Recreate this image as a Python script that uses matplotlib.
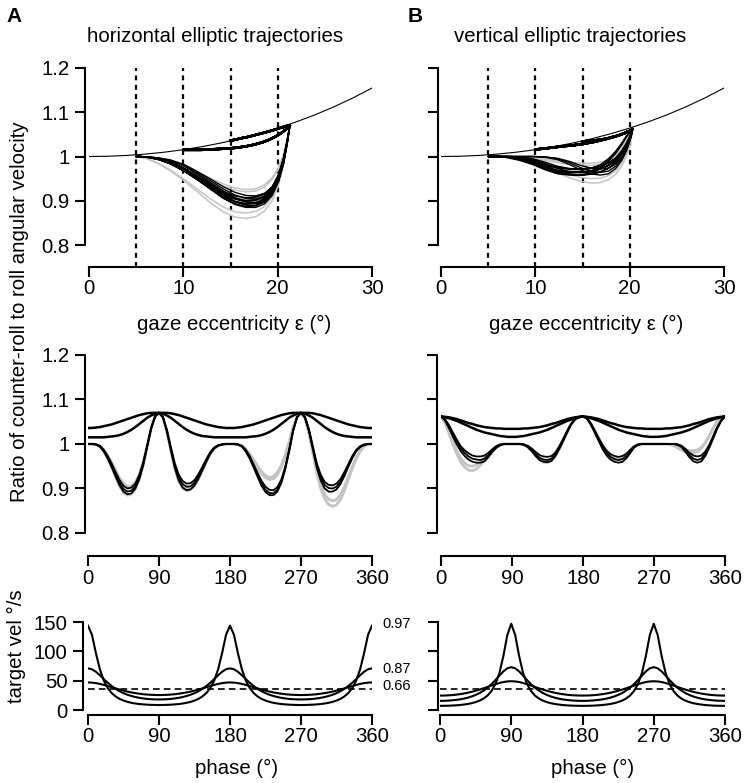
import numpy as np
import matplotlib
matplotlib.use("Agg")
import matplotlib.pyplot as plt

plt.rcParams['font.family'] = ['Liberation Sans', 'DejaVu Sans']
plt.rcParams['font.size'] = 14.7

# ---------------- data ----------------
phase = np.arange(0, 361, 5)            # trajectory phase (deg), 5 deg steps
ref_ecc = [0, 2, 4, 6, 8, 10, 12, 14, 16, 18, 20, 22, 24, 26, 28, 30]
ref_ratio = [1.0000, 1.0006, 1.0024, 1.0055, 1.0098, 1.0154, 1.0223, 1.0306,
             1.0403, 1.0515, 1.0642, 1.0785, 1.0946, 1.1126, 1.1326, 1.1547]
dotted_ecc = [5, 10, 15, 20]

# gaze eccentricity along the horizontal ellipses (minor axis 5, 10, 15 deg)
ecc_h5 = [5.00, 5.32, 6.16, 7.33, 8.67, 10.08, 11.50, 12.89, 14.22, 15.47, 16.63, 17.68, 18.61, 19.42, 20.09, 20.62, 21.00, 21.22, 21.30,
          21.22, 21.00, 20.62, 20.09, 19.42, 18.61, 17.68, 16.63, 15.47, 14.22, 12.89, 11.50, 10.08, 8.67, 7.33, 6.16, 5.32, 5.00,
          5.32, 6.16, 7.33, 8.67, 10.08, 11.50, 12.89, 14.22, 15.47, 16.63, 17.68, 18.61, 19.42, 20.09, 20.62, 21.00, 21.22, 21.30,
          21.22, 21.00, 20.62, 20.09, 19.42, 18.61, 17.68, 16.63, 15.47, 14.22, 12.89, 11.50, 10.08, 8.67, 7.33, 6.16, 5.32, 5.00]
ecc_h10 = [10.00, 10.13, 10.52, 11.12, 11.89, 12.77, 13.73, 14.71, 15.69, 16.64, 17.54, 18.37, 19.11, 19.76, 20.31, 20.74, 21.05, 21.24, 21.30,
           21.24, 21.05, 20.74, 20.31, 19.76, 19.11, 18.37, 17.54, 16.64, 15.69, 14.71, 13.73, 12.77, 11.89, 11.12, 10.52, 10.13, 10.00,
           10.13, 10.52, 11.12, 11.89, 12.77, 13.73, 14.71, 15.69, 16.64, 17.54, 18.37, 19.11, 19.76, 20.31, 20.74, 21.05, 21.24, 21.30,
           21.24, 21.05, 20.74, 20.31, 19.76, 19.11, 18.37, 17.54, 16.64, 15.69, 14.71, 13.73, 12.77, 11.89, 11.12, 10.52, 10.13, 10.00]
ecc_h15 = [15.00, 15.06, 15.23, 15.50, 15.87, 16.30, 16.80, 17.33, 17.87, 18.42, 18.95, 19.45, 19.91, 20.32, 20.66, 20.94, 21.14, 21.26, 21.30,
           21.26, 21.14, 20.94, 20.66, 20.32, 19.91, 19.45, 18.95, 18.42, 17.87, 17.33, 16.80, 16.30, 15.87, 15.50, 15.23, 15.06, 15.00,
           15.06, 15.23, 15.50, 15.87, 16.30, 16.80, 17.33, 17.87, 18.42, 18.95, 19.45, 19.91, 20.32, 20.66, 20.94, 21.14, 21.26, 21.30,
           21.26, 21.14, 20.94, 20.66, 20.32, 19.91, 19.45, 18.95, 18.42, 17.87, 17.33, 16.80, 16.30, 15.87, 15.50, 15.23, 15.06, 15.00]

# gaze eccentricity along the vertical ellipses
ecc_v5 = [20.30, 20.23, 20.01, 19.65, 19.15, 18.52, 17.76, 16.87, 15.88, 14.78, 13.60, 12.34, 11.04, 9.70, 8.38, 7.13, 6.06, 5.29, 5.00,
          5.29, 6.06, 7.13, 8.38, 9.70, 11.04, 12.34, 13.60, 14.78, 15.88, 16.87, 17.76, 18.52, 19.15, 19.65, 20.01, 20.23, 20.30,
          20.23, 20.01, 19.65, 19.15, 18.52, 17.76, 16.87, 15.88, 14.78, 13.60, 12.34, 11.04, 9.70, 8.38, 7.13, 6.06, 5.29, 5.00,
          5.29, 6.06, 7.13, 8.38, 9.70, 11.04, 12.34, 13.60, 14.78, 15.88, 16.87, 17.76, 18.52, 19.15, 19.65, 20.01, 20.23, 20.30]
ecc_v10 = [20.30, 20.24, 20.07, 19.78, 19.38, 18.88, 18.28, 17.59, 16.83, 16.00, 15.13, 14.24, 13.34, 12.48, 11.68, 11.00, 10.46, 10.12, 10.00,
           10.12, 10.46, 11.00, 11.68, 12.48, 13.34, 14.24, 15.13, 16.00, 16.83, 17.59, 18.28, 18.88, 19.38, 19.78, 20.07, 20.24, 20.30,
           20.24, 20.07, 19.78, 19.38, 18.88, 18.28, 17.59, 16.83, 16.00, 15.13, 14.24, 13.34, 12.48, 11.68, 11.00, 10.46, 10.12, 10.00,
           10.12, 10.46, 11.00, 11.68, 12.48, 13.34, 14.24, 15.13, 16.00, 16.83, 17.59, 18.28, 18.88, 19.38, 19.78, 20.07, 20.24, 20.30]
ecc_v15 = [20.30, 20.27, 20.16, 19.99, 19.75, 19.46, 19.11, 18.72, 18.30, 17.85, 17.39, 16.93, 16.49, 16.07, 15.71, 15.41, 15.19, 15.05, 15.00,
           15.05, 15.19, 15.41, 15.71, 16.07, 16.49, 16.93, 17.39, 17.85, 18.30, 18.72, 19.11, 19.46, 19.75, 19.99, 20.16, 20.27, 20.30,
           20.27, 20.16, 19.99, 19.75, 19.46, 19.11, 18.72, 18.30, 17.85, 17.39, 16.93, 16.49, 16.07, 15.71, 15.41, 15.19, 15.05, 15.00,
           15.05, 15.19, 15.41, 15.71, 16.07, 16.49, 16.93, 17.39, 17.85, 18.30, 18.72, 19.11, 19.46, 19.75, 19.99, 20.16, 20.27, 20.30]

# counter-roll / roll ratio, horizontal ellipses
ratio_h15 = [1.036, 1.036, 1.037, 1.038, 1.040, 1.042, 1.044, 1.047, 1.050, 1.053, 1.056, 1.059, 1.062, 1.065, 1.067, 1.069, 1.070, 1.070, 1.070,
             1.070, 1.070, 1.069, 1.067, 1.065, 1.062, 1.059, 1.056, 1.053, 1.050, 1.047, 1.044, 1.042, 1.040, 1.038, 1.037, 1.036, 1.036,
             1.036, 1.037, 1.038, 1.040, 1.042, 1.044, 1.047, 1.050, 1.053, 1.056, 1.059, 1.062, 1.065, 1.067, 1.069, 1.070, 1.070, 1.070,
             1.070, 1.070, 1.069, 1.067, 1.065, 1.062, 1.059, 1.056, 1.053, 1.050, 1.047, 1.044, 1.042, 1.040, 1.038, 1.037, 1.036, 1.036]
ratio_h10 = [1.015, 1.015, 1.015, 1.015, 1.015, 1.016, 1.017, 1.018, 1.020, 1.023, 1.027, 1.032, 1.038, 1.045, 1.052, 1.059, 1.064, 1.068, 1.070,
             1.068, 1.064, 1.059, 1.052, 1.045, 1.038, 1.032, 1.027, 1.023, 1.020, 1.018, 1.017, 1.016, 1.015, 1.015, 1.015, 1.015, 1.015,
             1.015, 1.015, 1.015, 1.015, 1.016, 1.017, 1.018, 1.020, 1.023, 1.027, 1.032, 1.038, 1.045, 1.052, 1.059, 1.064, 1.068, 1.070,
             1.068, 1.064, 1.059, 1.052, 1.045, 1.038, 1.032, 1.027, 1.023, 1.020, 1.018, 1.017, 1.016, 1.015, 1.015, 1.015, 1.015, 1.015]
ratio_h5_black = [
    [1.000, 1.000, 0.999, 0.995, 0.985, 0.970, 0.952, 0.932, 0.913, 0.899, 0.893, 0.895, 0.905, 0.925, 0.955, 0.995, 1.035, 1.062, 1.070,
     1.060, 1.030, 0.990, 0.952, 0.925, 0.910, 0.904, 0.905, 0.913, 0.927, 0.945, 0.963, 0.980, 0.991, 0.997, 0.999, 1.000, 1.000,
     1.000, 0.999, 0.995, 0.985, 0.970, 0.950, 0.930, 0.911, 0.897, 0.890, 0.889, 0.897, 0.915, 0.945, 0.985, 1.030, 1.060, 1.070,
     1.060, 1.032, 0.992, 0.952, 0.925, 0.908, 0.901, 0.900, 0.904, 0.915, 0.932, 0.952, 0.970, 0.985, 0.994, 0.998, 1.000, 1.000],
    [1.000, 1.000, 0.999, 0.994, 0.983, 0.967, 0.948, 0.927, 0.907, 0.893, 0.887, 0.889, 0.900, 0.921, 0.952, 0.993, 1.034, 1.062, 1.070,
     1.060, 1.028, 0.986, 0.946, 0.918, 0.902, 0.896, 0.898, 0.907, 0.922, 0.941, 0.960, 0.978, 0.990, 0.996, 0.999, 1.000, 1.000,
     1.000, 0.999, 0.994, 0.983, 0.967, 0.947, 0.926, 0.906, 0.892, 0.885, 0.885, 0.893, 0.912, 0.943, 0.983, 1.029, 1.060, 1.070,
     1.059, 1.029, 0.988, 0.947, 0.918, 0.900, 0.893, 0.893, 0.898, 0.910, 0.928, 0.949, 0.968, 0.984, 0.993, 0.998, 1.000, 1.000],
    [1.000, 1.000, 0.999, 0.996, 0.987, 0.973, 0.956, 0.937, 0.919, 0.906, 0.900, 0.902, 0.911, 0.930, 0.959, 0.997, 1.036, 1.062, 1.070,
     1.061, 1.032, 0.993, 0.957, 0.931, 0.917, 0.911, 0.912, 0.919, 0.932, 0.949, 0.966, 0.982, 0.992, 0.997, 0.999, 1.000, 1.000,
     1.000, 0.999, 0.996, 0.987, 0.973, 0.954, 0.935, 0.917, 0.904, 0.897, 0.896, 0.903, 0.920, 0.949, 0.988, 1.031, 1.061, 1.070,
     1.061, 1.034, 0.995, 0.957, 0.931, 0.915, 0.908, 0.907, 0.911, 0.921, 0.937, 0.955, 0.973, 0.987, 0.995, 0.999, 1.000, 1.000],
]
ratio_h5_gray = [
    [1.000, 1.000, 0.999, 0.995, 0.984, 0.968, 0.948, 0.926, 0.905, 0.891, 0.885, 0.887, 0.898, 0.920, 0.952, 0.993, 1.034, 1.062, 1.070,
     1.059, 1.027, 0.985, 0.945, 0.916, 0.900, 0.895, 0.897, 0.906, 0.921, 0.940, 0.960, 0.978, 0.990, 0.996, 0.999, 1.000, 1.000,
     1.000, 0.999, 0.996, 0.989, 0.978, 0.965, 0.951, 0.938, 0.929, 0.925, 0.927, 0.936, 0.952, 0.975, 1.005, 1.038, 1.062, 1.070,
     1.058, 1.025, 0.980, 0.935, 0.900, 0.877, 0.864, 0.860, 0.863, 0.875, 0.895, 0.920, 0.945, 0.967, 0.984, 0.995, 0.999, 1.000],
    [1.000, 1.000, 0.999, 0.996, 0.988, 0.975, 0.959, 0.941, 0.924, 0.912, 0.905, 0.906, 0.914, 0.932, 0.960, 0.997, 1.036, 1.062, 1.070,
     1.060, 1.029, 0.988, 0.950, 0.922, 0.906, 0.900, 0.902, 0.910, 0.924, 0.943, 0.962, 0.979, 0.991, 0.997, 0.999, 1.000, 1.000,
     1.000, 0.999, 0.996, 0.988, 0.976, 0.961, 0.946, 0.933, 0.924, 0.920, 0.922, 0.931, 0.948, 0.972, 1.003, 1.037, 1.062, 1.070,
     1.059, 1.027, 0.984, 0.941, 0.908, 0.887, 0.876, 0.872, 0.875, 0.886, 0.904, 0.926, 0.949, 0.969, 0.985, 0.995, 0.999, 1.000],
]

# counter-roll / roll ratio, vertical ellipses
ratio_v15 = [1.062, 1.061, 1.060, 1.058, 1.056, 1.053, 1.050, 1.047, 1.045, 1.042, 1.040, 1.038, 1.037, 1.036, 1.035, 1.035, 1.034, 1.034, 1.034,
             1.034, 1.034, 1.035, 1.035, 1.036, 1.037, 1.038, 1.040, 1.042, 1.045, 1.047, 1.050, 1.053, 1.056, 1.058, 1.060, 1.061, 1.062,
             1.061, 1.060, 1.058, 1.056, 1.053, 1.050, 1.047, 1.045, 1.042, 1.040, 1.038, 1.037, 1.036, 1.035, 1.035, 1.034, 1.034, 1.034,
             1.034, 1.034, 1.035, 1.035, 1.036, 1.037, 1.038, 1.040, 1.042, 1.045, 1.047, 1.050, 1.053, 1.056, 1.058, 1.060, 1.061, 1.062]
ratio_v10 = [1.062, 1.060, 1.058, 1.055, 1.052, 1.048, 1.044, 1.040, 1.036, 1.032, 1.029, 1.026, 1.024, 1.022, 1.020, 1.018, 1.017, 1.016, 1.016,
             1.016, 1.017, 1.018, 1.020, 1.022, 1.024, 1.026, 1.029, 1.032, 1.036, 1.040, 1.044, 1.048, 1.052, 1.055, 1.058, 1.060, 1.062,
             1.060, 1.058, 1.055, 1.052, 1.048, 1.044, 1.040, 1.036, 1.032, 1.029, 1.026, 1.024, 1.022, 1.020, 1.018, 1.017, 1.016, 1.016,
             1.016, 1.017, 1.018, 1.020, 1.022, 1.024, 1.026, 1.029, 1.032, 1.036, 1.040, 1.044, 1.048, 1.052, 1.055, 1.058, 1.060, 1.062]
ratio_v5_black = [
    [1.062, 1.055, 1.040, 1.022, 1.005, 0.990, 0.980, 0.972, 0.967, 0.965, 0.964, 0.967, 0.975, 0.985, 0.993, 0.998, 1.000, 1.000, 1.000,
     1.000, 1.000, 0.999, 0.995, 0.987, 0.977, 0.969, 0.965, 0.964, 0.967, 0.977, 0.992, 1.010, 1.028, 1.045, 1.056, 1.061, 1.062,
     1.058, 1.045, 1.028, 1.010, 0.993, 0.980, 0.971, 0.966, 0.964, 0.966, 0.973, 0.984, 0.994, 0.999, 1.000, 1.000, 1.000, 1.000,
     1.000, 1.000, 1.000, 1.000, 1.000, 0.999, 0.995, 0.986, 0.975, 0.967, 0.964, 0.967, 0.978, 0.995, 1.015, 1.036, 1.052, 1.062],
    [1.062, 1.053, 1.036, 1.017, 0.999, 0.984, 0.973, 0.965, 0.960, 0.958, 0.958, 0.961, 0.970, 0.982, 0.991, 0.997, 1.000, 1.000, 1.000,
     1.000, 1.000, 0.998, 0.993, 0.984, 0.973, 0.964, 0.960, 0.959, 0.962, 0.973, 0.989, 1.007, 1.026, 1.044, 1.055, 1.061, 1.062,
     1.057, 1.043, 1.025, 1.006, 0.988, 0.974, 0.965, 0.960, 0.958, 0.960, 0.968, 0.980, 0.992, 0.998, 1.000, 1.000, 1.000, 1.000,
     1.000, 1.000, 1.000, 1.000, 1.000, 0.998, 0.993, 0.982, 0.970, 0.961, 0.958, 0.961, 0.973, 0.991, 1.012, 1.034, 1.051, 1.062],
    [1.062, 1.056, 1.043, 1.026, 1.010, 0.995, 0.986, 0.979, 0.974, 0.972, 0.972, 0.974, 0.980, 0.988, 0.995, 0.999, 1.000, 1.000, 1.000,
     1.000, 1.000, 0.999, 0.996, 0.990, 0.982, 0.975, 0.972, 0.971, 0.973, 0.981, 0.995, 1.012, 1.030, 1.046, 1.056, 1.061, 1.062,
     1.058, 1.046, 1.030, 1.013, 0.997, 0.985, 0.977, 0.973, 0.971, 0.973, 0.978, 0.987, 0.995, 0.999, 1.000, 1.000, 1.000, 1.000,
     1.000, 1.000, 1.000, 1.000, 1.000, 0.999, 0.996, 0.989, 0.980, 0.974, 0.972, 0.974, 0.983, 0.998, 1.018, 1.038, 1.053, 1.062],
]
ratio_v5_gray = [
    [1.062, 1.048, 1.025, 1.000, 0.978, 0.960, 0.948, 0.941, 0.940, 0.944, 0.952, 0.963, 0.975, 0.986, 0.993, 0.998, 1.000, 1.000, 1.000,
     1.000, 1.000, 0.998, 0.993, 0.984, 0.973, 0.964, 0.959, 0.958, 0.962, 0.973, 0.989, 1.008, 1.027, 1.044, 1.055, 1.061, 1.062,
     1.058, 1.046, 1.030, 1.013, 0.996, 0.982, 0.972, 0.966, 0.965, 0.968, 0.976, 0.986, 0.995, 0.999, 1.000, 1.000, 1.000, 1.000,
     1.000, 1.000, 1.000, 0.999, 0.997, 0.994, 0.990, 0.987, 0.985, 0.985, 0.987, 0.992, 1.003, 1.018, 1.035, 1.050, 1.058, 1.062],
    [1.062, 1.050, 1.030, 1.007, 0.985, 0.968, 0.957, 0.951, 0.950, 0.953, 0.959, 0.968, 0.978, 0.988, 0.995, 0.999, 1.000, 1.000, 1.000,
     1.000, 1.000, 0.998, 0.994, 0.986, 0.976, 0.967, 0.963, 0.962, 0.965, 0.975, 0.991, 1.009, 1.028, 1.045, 1.056, 1.061, 1.062,
     1.058, 1.045, 1.029, 1.011, 0.994, 0.981, 0.973, 0.969, 0.968, 0.970, 0.977, 0.987, 0.995, 0.999, 1.000, 1.000, 1.000, 1.000,
     1.000, 1.000, 1.000, 0.999, 0.996, 0.991, 0.986, 0.982, 0.980, 0.980, 0.983, 0.990, 1.002, 1.018, 1.036, 1.051, 1.059, 1.062],
]

# target velocity (deg/s) for ellipse eccentricities 0.97, 0.87, 0.66
vel_labels = ['0.97', '0.87', '0.66']
vel_h = [
    [143.8, 128.3, 97.1, 69.6, 50.2, 37.4, 28.9, 23.1, 19.0, 16.1, 13.9, 12.3, 11.1, 10.2, 9.6, 9.1, 8.8, 8.6, 8.5,
     8.6, 8.8, 9.1, 9.6, 10.2, 11.1, 12.3, 13.9, 16.1, 19.0, 23.1, 28.9, 37.4, 50.2, 69.6, 97.1, 128.3, 143.8,
     128.3, 97.1, 69.6, 50.2, 37.4, 28.9, 23.1, 19.0, 16.1, 13.9, 12.3, 11.1, 10.2, 9.6, 9.1, 8.8, 8.6, 8.5,
     8.6, 8.8, 9.1, 9.6, 10.2, 11.1, 12.3, 13.9, 16.1, 19.0, 23.1, 28.9, 37.4, 50.2, 69.6, 97.1, 128.3, 143.8],
    [71.0, 69.5, 65.2, 59.3, 52.8, 46.5, 40.9, 36.1, 32.0, 28.7, 26.0, 23.9, 22.1, 20.8, 19.7, 18.9, 18.4, 18.1, 18.0,
     18.1, 18.4, 18.9, 19.7, 20.8, 22.1, 23.9, 26.0, 28.7, 32.0, 36.1, 40.9, 46.5, 52.8, 59.3, 65.2, 69.5, 71.0,
     69.5, 65.2, 59.3, 52.8, 46.5, 40.9, 36.1, 32.0, 28.7, 26.0, 23.9, 22.1, 20.8, 19.7, 18.9, 18.4, 18.1, 18.0,
     18.1, 18.4, 18.9, 19.7, 20.8, 22.1, 23.9, 26.0, 28.7, 32.0, 36.1, 40.9, 46.5, 52.8, 59.3, 65.2, 69.5, 71.0],
    [47.0, 46.7, 45.8, 44.5, 42.8, 40.8, 38.8, 36.8, 34.9, 33.1, 31.4, 30.0, 28.8, 27.8, 26.9, 26.3, 25.9, 25.6, 25.5,
     25.6, 25.9, 26.3, 26.9, 27.8, 28.8, 30.0, 31.4, 33.1, 34.9, 36.8, 38.8, 40.8, 42.8, 44.5, 45.8, 46.7, 47.0,
     46.7, 45.8, 44.5, 42.8, 40.8, 38.8, 36.8, 34.9, 33.1, 31.4, 30.0, 28.8, 27.8, 26.9, 26.3, 25.9, 25.6, 25.5,
     25.6, 25.9, 26.3, 26.9, 27.8, 28.8, 30.0, 31.4, 33.1, 34.9, 36.8, 38.8, 40.8, 42.8, 44.5, 45.8, 46.7, 47.0],
]
vel_v = [
    [7.0, 7.1, 7.2, 7.5, 7.9, 8.4, 9.2, 10.2, 11.5, 13.4, 15.9, 19.4, 24.5, 32.2, 44.0, 62.8, 91.7, 127.6, 147.0,
     127.6, 91.7, 62.8, 44.0, 32.2, 24.5, 19.4, 15.9, 13.4, 11.5, 10.2, 9.2, 8.4, 7.9, 7.5, 7.2, 7.1, 7.0,
     7.1, 7.2, 7.5, 7.9, 8.4, 9.2, 10.2, 11.5, 13.4, 15.9, 19.4, 24.5, 32.2, 44.0, 62.8, 91.7, 127.6, 147.0,
     127.6, 91.7, 62.8, 44.0, 32.2, 24.5, 19.4, 15.9, 13.4, 11.5, 10.2, 9.2, 8.4, 7.9, 7.5, 7.2, 7.1, 7.0],
    [15.5, 15.6, 15.9, 16.4, 17.1, 18.0, 19.3, 20.9, 23.0, 25.6, 28.8, 32.9, 37.9, 43.9, 50.9, 58.5, 65.7, 71.0, 73.0,
     71.0, 65.7, 58.5, 50.9, 43.9, 37.9, 32.9, 28.8, 25.6, 23.0, 20.9, 19.3, 18.0, 17.1, 16.4, 15.9, 15.6, 15.5,
     15.6, 15.9, 16.4, 17.1, 18.0, 19.3, 20.9, 23.0, 25.6, 28.8, 32.9, 37.9, 43.9, 50.9, 58.5, 65.7, 71.0, 73.0,
     71.0, 65.7, 58.5, 50.9, 43.9, 37.9, 32.9, 28.8, 25.6, 23.0, 20.9, 19.3, 18.0, 17.1, 16.4, 15.9, 15.6, 15.5],
    [24.5, 24.6, 24.9, 25.3, 26.0, 26.9, 28.0, 29.3, 30.9, 32.7, 34.7, 36.9, 39.2, 41.6, 43.9, 45.9, 47.6, 48.6, 49.0,
     48.6, 47.6, 45.9, 43.9, 41.6, 39.2, 36.9, 34.7, 32.7, 30.9, 29.3, 28.0, 26.9, 26.0, 25.3, 24.9, 24.6, 24.5,
     24.6, 24.9, 25.3, 26.0, 26.9, 28.0, 29.3, 30.9, 32.7, 34.7, 36.9, 39.2, 41.6, 43.9, 45.9, 47.6, 48.6, 49.0,
     48.6, 47.6, 45.9, 43.9, 41.6, 39.2, 36.9, 34.7, 32.7, 30.9, 29.3, 28.0, 26.9, 26.0, 25.3, 24.9, 24.6, 24.5],
]
vel_mean = 36

# ---------------- layout ----------------
W, H = 745, 783
fig = plt.figure(figsize=(W / 100, H / 100), dpi=100)
GRAY = '#c4c4c4'


def add_ax(x0, x1, ytop, ybot):
    return fig.add_axes([x0 / W, 1 - ybot / H, (x1 - x0) / W, (ybot - ytop) / H])


def style(ax, out, xbounds, ybounds, xticks, yticks, ylabels):
    for s in ['top', 'right']:
        ax.spines[s].set_visible(False)
    for s in ['left', 'bottom']:
        ax.spines[s].set_linewidth(1.5)
    ax.spines['left'].set_position(('outward', out))
    ax.spines['left'].set_bounds(*ybounds)
    ax.spines['bottom'].set_bounds(*xbounds)
    ax.set_xticks(xticks)
    ax.set_xticklabels([str(t) for t in xticks])
    ax.set_yticks(yticks)
    ax.set_yticklabels(ylabels)
    ax.tick_params(width=1.5, length=7, labelsize=14.7)
    ax.tick_params(axis='x', pad=2)
    ax.tick_params(axis='y', pad=4)
    ax.patch.set_visible(False)


ratio_ticks = [0.8, 0.9, 1.0, 1.1, 1.2]
ratio_labels = ['0.8', '0.9', '1', '1.1', '1.2']
phase_ticks = [0, 90, 180, 270, 360]

# top row: ratio vs gaze eccentricity
top_specs = [
    (89, 372, 3, [(ecc_h15, ratio_h15), (ecc_h10, ratio_h10)],
     ecc_h5, ratio_h5_black, ratio_h5_gray, ratio_labels),
    (441, 724, 2.2, [(ecc_v15, ratio_v15), (ecc_v10, ratio_v10)],
     ecc_v5, ratio_v5_black, ratio_v5_gray, [''] * 5),
]
for x0, x1, out, upper, ecc5, blacks, grays, ylab in top_specs:
    ax = add_ax(x0, x1, 68, 267)
    ax.set_xlim(0, 30)
    ax.set_ylim(0.7503, 1.2)
    for xv in dotted_ecc:
        ax.axvline(xv, color='black', lw=1.6, dashes=(2.2, 2.0), zorder=1)
    for r in grays:
        ax.plot(ecc5, r, color=GRAY, lw=1.1, zorder=2)
    for r in blacks:
        ax.plot(ecc5, r, color='black', lw=1.0, zorder=3)
    for ecc, r in upper:
        ax.plot(ecc, r, color='black', lw=1.8, zorder=3)
    ax.plot(ref_ecc, ref_ratio, color='black', lw=0.8, zorder=3)
    style(ax, out, (0, 30), (0.8, 1.2), [0, 10, 20, 30], ratio_ticks, ylab)

# middle row: ratio vs phase
mid_specs = [
    (88, 372, 2.2, [ratio_h15, ratio_h10], ratio_h5_black, ratio_h5_gray, ratio_labels),
    (441, 725, 2.9, [ratio_v15, ratio_v10], ratio_v5_black, ratio_v5_gray, [''] * 5),
]
for x0, x1, out, upper, blacks, grays, ylab in mid_specs:
    ax = add_ax(x0, x1, 355, 556)
    ax.set_xlim(0, 360)
    ax.set_ylim(0.7483, 1.2)
    for r in grays:
        ax.plot(phase, r, color=GRAY, lw=2.0, zorder=2)
    for r in blacks:
        ax.plot(phase, r, color='black', lw=1.3, zorder=3)
    for r in upper:
        ax.plot(phase, r, color='black', lw=1.8, zorder=3)
    style(ax, out, (0, 360), (0.8, 1.2), phase_ticks, ratio_ticks, ylab)

# bottom row: target velocity vs phase
bot_specs = [
    (88, 372, 3.6, vel_h, ['0', '50', '100', '150'], -8.5, 150),
    (440, 725, 1.5, vel_v, [''] * 4, -8.6, 150),
]
for i, (x0, x1, out, vels, ylab, ylo, yhi) in enumerate(bot_specs):
    ax = add_ax(x0, x1, 622, 715)
    ax.set_xlim(0, 360)
    ax.set_ylim(ylo, yhi)
    ax.axhline(vel_mean, color='black', lw=1.2, dashes=(4, 2.5), zorder=2)
    for v in vels:
        ax.plot(phase, v, color='black', lw=1.5, zorder=3)
    style(ax, out, (0, 360), (0, 150), phase_ticks, [0, 50, 100, 150], ylab)
    if i == 0:
        for lab, yv in zip(vel_labels, [146, 70, 41]):
            ax.text(373, yv, lab, fontsize=10.5, va='center', ha='left', clip_on=False)

# figure texts
fig.text(14 / W, 1 - 17 / H, 'A', fontsize=15, fontweight='bold', ha='center', va='center')
fig.text(415 / W, 1 - 17 / H, 'B', fontsize=15, fontweight='bold', ha='center', va='center')
fig.text(215.5 / W, 1 - 37 / H, 'horizontal elliptic trajectories', ha='center', va='center')
fig.text(570 / W, 1 - 37 / H, 'vertical elliptic trajectories', ha='center', va='center')
fig.text(234 / W, 1 - 324 / H, 'gaze eccentricity \u03b5 (\u00b0)', ha='center', va='center')
fig.text(586 / W, 1 - 324 / H, 'gaze eccentricity \u03b5 (\u00b0)', ha='center', va='center')
fig.text(237 / W, 1 - 768 / H, 'phase (\u00b0)', ha='center', va='center')
fig.text(593 / W, 1 - 768 / H, 'phase (\u00b0)', ha='center', va='center')
fig.text(20 / W, 1 - 312 / H, 'Ratio of counter-roll to roll angular velocity',
         rotation=90, ha='center', va='center')
fig.text(16 / W, 1 - 646 / H, 'target vel \u00b0/s', rotation=90, ha='center', va='center')

fig.savefig('out.png', dpi=100)
